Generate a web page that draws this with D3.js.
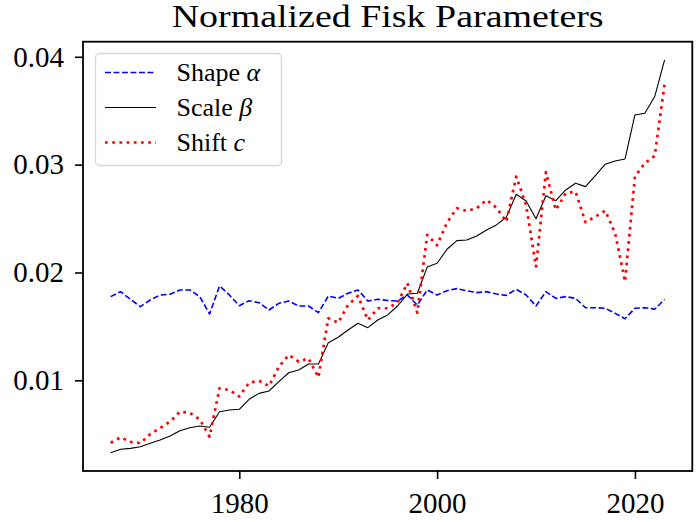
<!DOCTYPE html>
<html lang="en">
<head>
  <meta charset="UTF-8">
  <title>Normalized Fisk Parameters</title>
  <script src="https://d3js.org/d3.v7.min.js"></script>
  <style type="text/css">
    body { margin: 0; background: #fff; }
    text { font-family: "Liberation Serif", "DejaVu Serif", serif; fill: #000; }
  </style>
</head>
<body>
<script type="text/javascript">
  // yearly values
  var years = d3.range(1967, 2024);
  var shapeAlpha = [0.01776,0.01822,0.01751,0.01683,0.01745,0.01791,0.01798,0.01838,0.01838,0.01776,
    0.01615,0.01875,0.01791,0.01692,0.01738,0.0172,0.01652,0.01714,0.01735,0.01689,
    0.01689,0.01627,0.01782,0.0176,0.01807,0.01838,0.01735,0.01751,0.0174,0.01735,
    0.01791,0.01698,0.01838,0.01791,0.01831,0.0185,0.01831,0.01813,0.01822,0.018,
    0.01788,0.01844,0.01791,0.01689,0.01822,0.0176,0.01776,0.0176,0.01673,0.01673,
    0.01668,0.01621,0.01571,0.01668,0.01673,0.01659,0.01751];
  var scaleBeta = [0.00328,0.0036,0.00369,0.00384,0.00416,0.00446,0.00483,0.00532,0.0056,0.00576,
    0.00564,0.00709,0.00724,0.00731,0.00824,0.00879,0.00901,0.00987,0.0107,0.01096,
    0.01151,0.01151,0.01349,0.01399,0.01467,0.01529,0.01488,0.01559,0.01606,0.01689,
    0.018,0.01807,0.0205,0.02085,0.02215,0.02295,0.02301,0.02339,0.02394,0.02441,
    0.02512,0.02725,0.02663,0.02498,0.02712,0.02666,0.02765,0.02827,0.02796,0.02898,
    0.03004,0.03034,0.03053,0.03461,0.03477,0.03631,0.03971];
  var shiftC = [0.00421,0.00471,0.0043,0.00416,0.00502,0.00558,0.00616,0.00709,0.00699,0.00638,
    0.00477,0.00926,0.0091,0.0085,0.00978,0.00996,0.00947,0.01126,0.01235,0.01173,
    0.01204,0.01028,0.01575,0.01534,0.01699,0.01782,0.01559,0.01668,0.01668,0.0172,
    0.019,0.01627,0.02349,0.02252,0.02462,0.02596,0.0257,0.02596,0.02672,0.02601,
    0.02471,0.02889,0.02626,0.02054,0.0293,0.0258,0.02735,0.0275,0.02466,0.02518,
    0.02573,0.02364,0.01915,0.02889,0.03013,0.03081,0.03746];
  var xTicks = [1980, 2000, 2020];
  var yTicks = [0.01, 0.02, 0.03, 0.04];

  var series = [
    {name: "Shape ", sym: "\u03b1", values: shapeAlpha, color: "#0000ff", width: 1.6, dash: "5.9,2.6"},
    {name: "Scale ", sym: "\u03b2", values: scaleBeta, color: "#000000", width: 1.1, dash: null},
    {name: "Shift ", sym: "c", values: shiftC, color: "#ff0000", width: 2.7, dash: "2.7,4.5"}
  ];

  drawChart();

  function drawChart() {
    var W = 696, H = 522;
    var pLeft = 83, pRight = 692.3, pTop = 41.7, pBottom = 471;

    var svg = d3.select("body").append("svg")
      .attr("width", W)
      .attr("height", H);

    var x = d3.scaleLinear().domain([1964.2, 2025.8]).range([pLeft, pRight]);
    var y = d3.scaleLinear().domain([0.00159, 0.0414]).range([pBottom, pTop]);

    var line = d3.line()
      .x(function(d, i){ return x(years[i]); })
      .y(function(d){ return y(d); });

    svg.selectAll("path.series")
      .data(series)
      .enter()
      .append("path")
      .attr("class", "series")
      .attr("d", function(s){ return line(s.values); })
      .attr("fill", "none")
      .attr("stroke", function(s){ return s.color; })
      .attr("stroke-width", function(s){ return s.width; })
      .attr("stroke-dasharray", function(s){ return s.dash; })
      .attr("stroke-linejoin", "round");

    // axes
    var xAxis = svg.append("g")
      .attr("transform", "translate(0," + pBottom + ")")
      .call(d3.axisBottom(x).tickValues(xTicks).tickFormat(d3.format("d")).tickSize(8).tickPadding(13));
    var yAxis = svg.append("g")
      .attr("transform", "translate(" + pLeft + ",0)")
      .call(d3.axisLeft(y).tickValues(yTicks).tickFormat(d3.format(".2f")).tickSize(8).tickPadding(11));

    [xAxis, yAxis].forEach(function(g){
      g.select(".domain").remove();
      g.selectAll("line").attr("stroke", "#000").attr("stroke-width", 1.6);
      g.selectAll("text").attr("font-family", "Liberation Serif").attr("font-size", 29).attr("fill", "#000");
    });

    svg.append("rect")
      .attr("x", pLeft).attr("y", pTop)
      .attr("width", pRight - pLeft).attr("height", pBottom - pTop)
      .attr("fill", "none").attr("stroke", "#000").attr("stroke-width", 1.8);

    svg.append("text")
      .attr("x", (pLeft + pRight) / 2)
      .attr("y", 27)
      .attr("text-anchor", "middle")
      .attr("font-size", 31)
      .attr("textLength", 432)
      .attr("lengthAdjust", "spacingAndGlyphs")
      .text("Normalized Fisk Parameters");

    // legend
    var legend = svg.append("g");
    legend.append("rect")
      .attr("x", 95.5).attr("y", 53.5)
      .attr("width", 186).attr("height", 112)
      .attr("rx", 4)
      .attr("fill", "#fff").attr("fill-opacity", 0.8)
      .attr("stroke", "#d6d6d6").attr("stroke-width", 1.3);

    var rows = legend.selectAll("g.row")
      .data(series)
      .enter()
      .append("g")
      .attr("class", "row")
      .attr("transform", function(s, i){ return "translate(0," + (72.5 + i * 35) + ")"; });

    rows.append("line")
      .attr("x1", 105).attr("x2", 156)
      .attr("stroke", function(s){ return s.color; })
      .attr("stroke-width", function(s){ return s.width; })
      .attr("stroke-dasharray", function(s){ return s.dash; });

    var lt = rows.append("text")
      .attr("x", 176.5)
      .attr("y", 8)
      .attr("font-size", 26);
    lt.append("tspan").text(function(s){ return s.name; });
    lt.append("tspan").attr("font-style", "italic").text(function(s){ return s.sym; });
  }
</script>
</body>
</html>
